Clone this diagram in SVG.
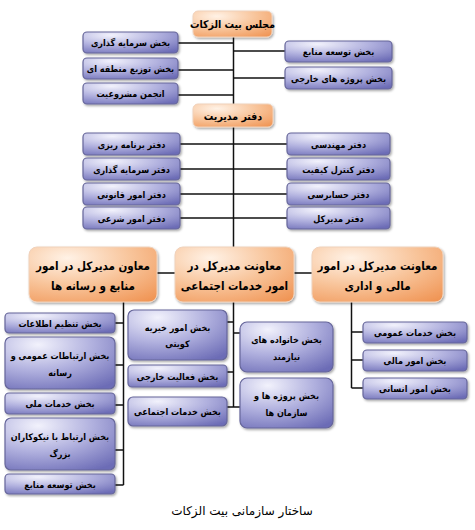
<svg xmlns="http://www.w3.org/2000/svg" width="475" height="530" viewBox="0 0 475 530">
<defs>
<radialGradient id="gO" cx="0.3" cy="0.2" r="1">
<stop offset="0" stop-color="#fff2e6"/>
<stop offset="0.5" stop-color="#f8c49a"/>
<stop offset="1" stop-color="#f09555"/>
</radialGradient>
<radialGradient id="gB" cx="0.3" cy="0.15" r="1">
<stop offset="0" stop-color="#f2f2fc"/>
<stop offset="0.5" stop-color="#b0b0de"/>
<stop offset="1" stop-color="#6c6cb6"/>
</radialGradient>
<filter id="sh" x="-10%" y="-10%" width="125%" height="130%">
<feDropShadow dx="1.2" dy="1.5" stdDeviation="1.2" flood-color="#000" flood-opacity="0.35"/>
</filter>
</defs>
<style>
.o{fill:url(#gO);stroke:#f0d2bc;stroke-width:1;filter:url(#sh)}
.b{fill:url(#gB);stroke:#66669a;stroke-width:1.2;filter:url(#sh)}
text{font-family:"DejaVu Sans Condensed","DejaVu Sans",sans-serif;font-weight:bold;text-anchor:middle;fill:#000}
.t{font-size:9px}
.to{font-size:10.5px}
.tm{font-size:11.5px}
.cap{font-size:12px;font-weight:normal;font-family:"DejaVu Sans",sans-serif}
.c line{stroke:#111;stroke-width:1.5}
</style>
<rect width="475" height="530" fill="#fff"/>
<g class="c">
<line x1="233.5" y1="37" x2="233.5" y2="105"/>
<line x1="178" y1="43" x2="233.5" y2="43"/>
<line x1="178" y1="70" x2="233.5" y2="70"/>
<line x1="178" y1="95" x2="233.5" y2="95"/>
<line x1="233.5" y1="51" x2="285" y2="51"/>
<line x1="233.5" y1="78" x2="285" y2="78"/>
<line x1="233.5" y1="127" x2="233.5" y2="247"/>
<line x1="180" y1="144" x2="287" y2="144"/>
<line x1="180" y1="169" x2="287" y2="169"/>
<line x1="180" y1="194" x2="287" y2="194"/>
<line x1="180" y1="218" x2="287" y2="218"/>
<line x1="157" y1="273" x2="175" y2="273"/>
<line x1="294" y1="273" x2="312" y2="273"/>
<line x1="123.5" y1="302" x2="123.5" y2="485"/>
<line x1="115" y1="323" x2="123.5" y2="323"/>
<line x1="115" y1="365" x2="123.5" y2="365"/>
<line x1="115" y1="405" x2="123.5" y2="405"/>
<line x1="115" y1="450" x2="123.5" y2="450"/>
<line x1="115" y1="485" x2="123.5" y2="485"/>
<line x1="233.5" y1="302" x2="233.5" y2="407"/>
<line x1="227" y1="322" x2="233.5" y2="322"/>
<line x1="227" y1="372" x2="233.5" y2="372"/>
<line x1="227" y1="407" x2="240" y2="407"/>
<line x1="233.5" y1="333" x2="240" y2="333"/>
<line x1="351.5" y1="302" x2="351.5" y2="388"/>
<line x1="351.5" y1="332" x2="363" y2="332"/>
<line x1="351.5" y1="360" x2="363" y2="360"/>
<line x1="351.5" y1="388" x2="363" y2="388"/>
</g>
<g id="n-majles"><rect class="o" x="193" y="11" width="79" height="26" rx="5"/><text class="to" x="232.5" y="28">مجلس بیت الزکات</text></g>
<g id="n-sarmaye1"><rect class="b" x="83" y="32" width="95" height="21" rx="4"/><text class="t" x="130.5" y="46">بخش سرمایه گذاری</text></g>
<g id="n-tozi"><rect class="b" x="83" y="58" width="95" height="21" rx="4"/><text class="t" x="130.5" y="72">بخش توزیع منطقه ای</text></g>
<g id="n-anjoman"><rect class="b" x="83" y="83" width="95" height="21" rx="4"/><text class="t" x="130.5" y="97">انجمن مشروعیت</text></g>
<g id="n-tosee1"><rect class="b" x="285" y="41" width="107" height="21" rx="4"/><text class="t" x="338.5" y="55">بخش توسعه منابع</text></g>
<g id="n-projeh"><rect class="b" x="285" y="67" width="107" height="22" rx="4"/><text class="t" x="338.5" y="81.5">بخش پروژه های خارجی</text></g>
<g id="n-modiriyat"><rect class="o" x="193" y="104" width="80" height="23" rx="5"/><text class="to" x="233" y="119.5">دفتر مدیریت</text></g>
<g id="n-barname"><rect class="b" x="83" y="133" width="97" height="22" rx="4"/><text class="t" x="131.5" y="147.5">دفتر برنامه ریزی</text></g>
<g id="n-sarmaye2"><rect class="b" x="83" y="158" width="97" height="22" rx="4"/><text class="t" x="131.5" y="172.5">دفتر سرمایه گذاری</text></g>
<g id="n-ghanooni"><rect class="b" x="83" y="183" width="97" height="22" rx="4"/><text class="t" x="131.5" y="197.5">دفتر امور قانونی</text></g>
<g id="n-sharei"><rect class="b" x="83" y="207" width="97" height="22" rx="4"/><text class="t" x="131.5" y="221.5">دفتر امور شرعی</text></g>
<g id="n-mohandesi"><rect class="b" x="287" y="133" width="103" height="22" rx="4"/><text class="t" x="338.5" y="147.5">دفتر مهندسی</text></g>
<g id="n-kontrol"><rect class="b" x="287" y="158" width="103" height="22" rx="4"/><text class="t" x="338.5" y="172.5">دفتر کنترل کیفیت</text></g>
<g id="n-hesabresi"><rect class="b" x="287" y="183" width="103" height="22" rx="4"/><text class="t" x="338.5" y="197.5">دفتر حسابرسی</text></g>
<g id="n-modirkol"><rect class="b" x="287" y="207" width="103" height="22" rx="4"/><text class="t" x="338.5" y="221.5">دفتر مدیرکل</text></g>
<g id="n-moaven1"><rect class="o" x="29" y="247" width="128" height="55" rx="8"/><text class="tm" x="93" y="270">معاون مدیرکل در امور</text><text class="tm" x="93" y="290">منابع و رسانه ها</text></g>
<g id="n-moaven2"><rect class="o" x="175" y="247" width="119" height="55" rx="8"/><text class="tm" x="234.5" y="270">معاونت مدیرکل در</text><text class="tm" x="234.5" y="290">امور خدمات اجتماعی</text></g>
<g id="n-moaven3"><rect class="o" x="312" y="247" width="131" height="55" rx="8"/><text class="tm" x="377.5" y="270">معاونت مدیرکل در امور</text><text class="tm" x="377.5" y="290">مالی و اداری</text></g>
<g id="n-tanzim"><rect class="b" x="5" y="313" width="110" height="20" rx="4"/><text class="t" x="60" y="326.5">بخش تنظیم اطلاعات</text></g>
<g id="n-ertebatat"><rect class="b" x="5" y="337" width="110" height="52" rx="6"/><text class="t" x="60" y="359">بخش ارتباطات عمومی و</text><text class="t" x="60" y="376">رسانه</text></g>
<g id="n-melli"><rect class="b" x="5" y="393" width="110" height="21" rx="4"/><text class="t" x="60" y="407">بخش خدمات ملی</text></g>
<g id="n-nikookar"><rect class="b" x="5" y="418" width="110" height="52" rx="6"/><text class="t" x="60" y="440">بخش ارتباط با نیکوکاران</text><text class="t" x="60" y="457">بزرگ</text></g>
<g id="n-tosee2"><rect class="b" x="5" y="474" width="110" height="20" rx="4"/><text class="t" x="60" y="487.5">بخش توسعه منابع</text></g>
<g id="n-kheyrie"><rect class="b" x="128" y="310" width="99" height="50" rx="6"/><text class="t" x="177.5" y="331">بخش امور خیریه</text><text class="t" x="177.5" y="347">کویتی</text></g>
<g id="n-faaliyat"><rect class="b" x="128" y="365" width="99" height="22" rx="4"/><text class="t" x="177.5" y="379.5">بخش فعالیت خارجی</text></g>
<g id="n-ejtemaei"><rect class="b" x="128" y="397" width="99" height="29" rx="5"/><text class="t" x="177.5" y="414.5">بخش خدمات اجتماعی</text></g>
<g id="n-khanevade"><rect class="b" x="240" y="322" width="93" height="50" rx="7"/><text class="t" x="286.5" y="343">بخش خانواده های</text><text class="t" x="286.5" y="360">نیازمند</text></g>
<g id="n-sazman"><rect class="b" x="240" y="378" width="93" height="50" rx="7"/><text class="t" x="286.5" y="399">بخش پروژه ها و</text><text class="t" x="286.5" y="416">سازمان ها</text></g>
<g id="n-omoomi"><rect class="b" x="363" y="322" width="104" height="21" rx="4"/><text class="t" x="415" y="335.5">بخش خدمات عمومی</text></g>
<g id="n-mali"><rect class="b" x="363" y="350" width="104" height="21" rx="4"/><text class="t" x="415" y="363.5">بخش امور مالی</text></g>
<g id="n-ensani"><rect class="b" x="363" y="378" width="104" height="21" rx="4"/><text class="t" x="415" y="391.5">بخش امور انسانی</text></g>
<text class="cap" x="242" y="515">ساختار سازمانی بیت الزکات</text>
</svg>
